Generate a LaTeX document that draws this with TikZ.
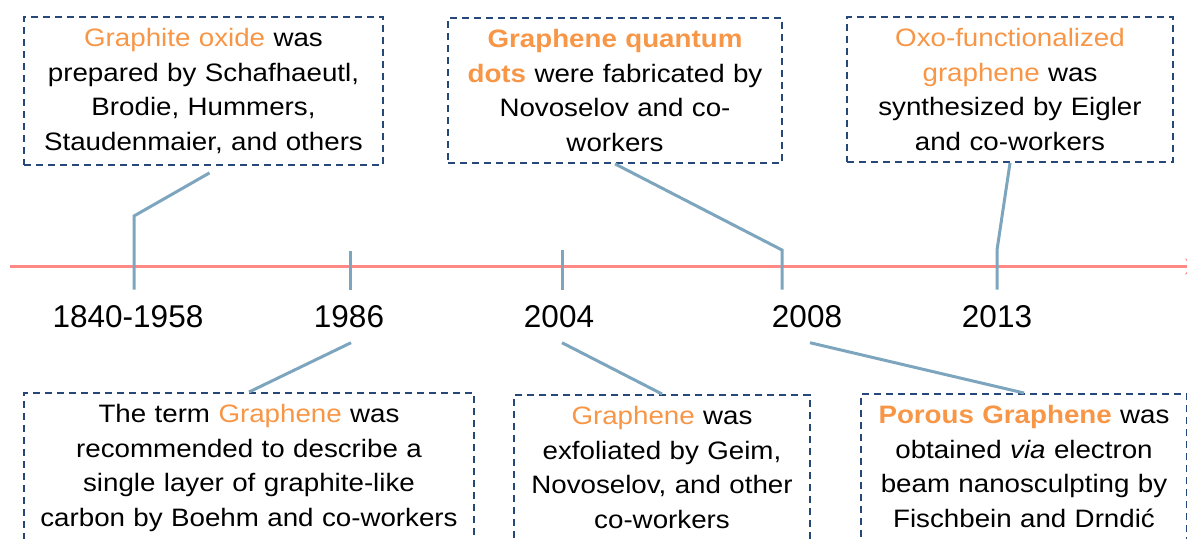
\documentclass[tikz,border=0pt]{standalone}
\usepackage{fontspec}
\setmainfont{Liberation Sans}
\newfontfamily\boxfont[FakeStretch=1.1]{Liberation Sans}
\usetikzlibrary{positioning,arrows.meta}

\definecolor{axisred}{RGB}{255,138,133}
\definecolor{stemblue}{RGB}{125,166,190}
\definecolor{boxblue}{RGB}{38,72,120}
\definecolor{hilite}{RGB}{247,150,70}
\newcommand{\hl}[1]{\textcolor{hilite}{#1}}
\newcommand{\hlb}[1]{\textcolor{hilite}{\bfseries #1}}

\begin{document}
\begin{tikzpicture}[x=0.5pt, y=-0.5pt,
    event/.style={draw=boxblue, line width=1pt, dash pattern=on 3.5pt off 2.5pt,
      align=center, inner xsep=0pt, inner ysep=5.5pt, anchor=north west,
      font=\boxfont\fontsize{12.6}{17.4}\selectfont},
    openevent/.style={event, text depth=90pt},
    stem/.style={stemblue, line width=1.5pt},
    year/.style={font=\fontsize{15.75}{18}\selectfont, anchor=base,
      inner xsep=0pt, inner ysep=7.5pt}]
	\useasboundingbox (0,0) rectangle (1187,538);
	\clip (0,0) rectangle (1187,538);
	
	% time axis
	\draw[axisred, line width=1.5pt, -{Stealth[length=9pt,width=8pt]}] (10,266.5) -- (1203,266.5);
	
	% years
	\node[year] (yr1) at (128,327) {1840-1958};
	\node[year] (yr2) at (349,327) {1986};
	\node[year] (yr3) at (559,327) {2004};
	\node[year] (yr4) at (807,327) {2008};
	\node[year] (yr5) at (997,327) {2013};
	
	% events above the axis
	\node[event, text width=179.5pt] (graphite) at (23,16)
	  {\hl{Graphite oxide} was\\ prepared by Schafhaeutl,\\ Brodie, Hummers,\\ Staudenmaier, and others};
	\node[event, text width=167pt] (dots) at (447,17)
	  {\hlb{Graphene quantum}\\ \hlb{dots} were fabricated by\\ Novoselov and co-\\ workers};
	\node[event, text width=163pt] (oxo) at (846,16)
	  {\hl{Oxo-functionalized}\\ \hl{graphene} was\\ synthesized by Eigler\\ and co-workers};
	
	% events below the axis
	\node[openevent, text width=225pt] (term) at (23,392)
	  {The term \hl{Graphene} was\\ recommended to describe a\\ single layer of graphite-like\\ carbon by Boehm and co-workers};
	\node[openevent, text width=148pt] (exfol) at (513,394)
	  {\hl{Graphene} was\\ exfoliated by Geim,\\ Novoselov, and other\\ co-workers};
	\node[openevent, text width=163pt] (porous) at (860,393)
	  {\hlb{Porous Graphene} was\\ obtained \textit{via} electron\\ beam nanosculpting by\\ Fischbein and Drndić};
	
	% ticks and leaders
	\coordinate (k1) at (134,216);
	\coordinate (k2) at (350,251);
	\coordinate (k3) at (562,250);
	\coordinate (k4) at (782,250);
	\coordinate (k5) at (997,250);
	\draw[stem] ([xshift=3pt,yshift=-3.5pt]graphite.south) -- (k1) -- (k1 |- yr1.north);
	\draw[stem] (k2) -- (k2 |- yr2.north);
	\draw[stem] (k3) -- (k3 |- yr3.north);
	\draw[stem] (dots.south) -- (k4) -- (k4 |- yr4.north);
	\draw[stem] (oxo.south) -- (k5) -- (k5 |- yr5.north);
	\draw[stem] ([xshift=1pt]yr2.south) -- (term.north);
	\draw[stem] ([xshift=1.5pt]yr3.south) -- (exfol.north);
	\draw[stem] ([xshift=1.5pt]yr4.south) -- (porous.north);
\end{tikzpicture}
\end{document}
